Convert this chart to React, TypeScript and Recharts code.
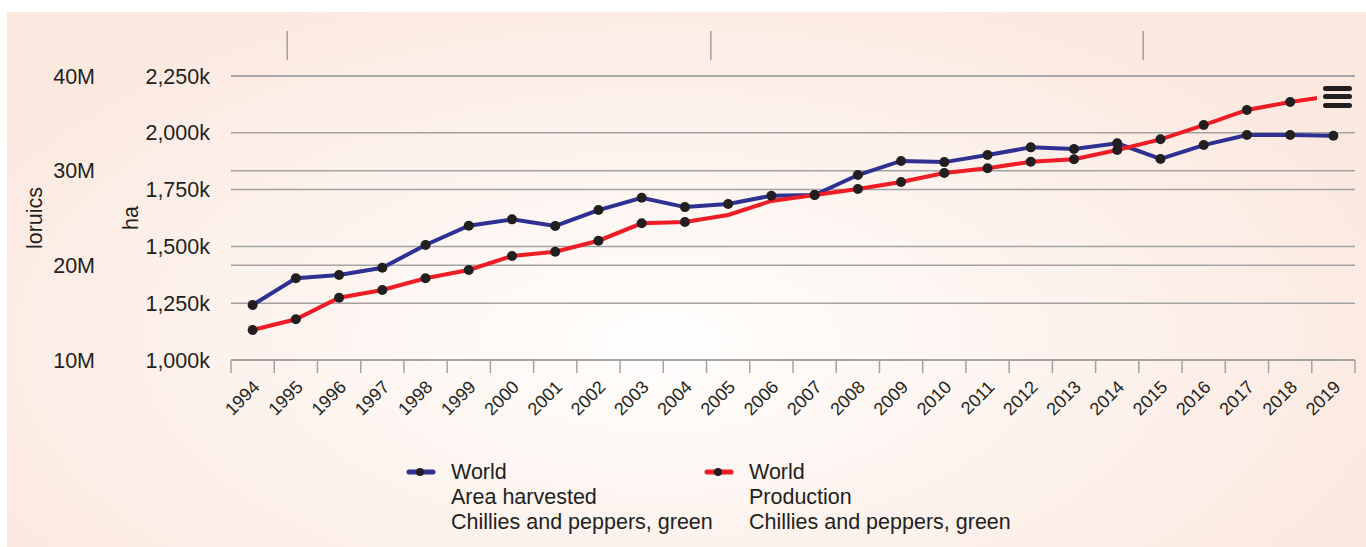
import React from 'react';
import { CartesianGrid, Legend, Line, LineChart, XAxis, YAxis } from 'recharts';

const years = [
  '1994', '1995', '1996', '1997', '1998', '1999', '2000', '2001', '2002', '2003', '2004', '2005', '2006',
  '2007', '2008', '2009', '2010', '2011', '2012', '2013', '2014', '2015', '2016', '2017', '2018', '2019',
];

// ha
const areaHarvested = [
  1242000, 1360000, 1374000, 1406000, 1506000, 1591000, 1619000, 1590000, 1660000, 1714000, 1673000, 1687000, 1723000,
  1726000, 1814000, 1876000, 1871000, 1902000, 1936000, 1929000, 1954000, 1885000, 1946000, 1990000, 1990000, 1987000,
];

// tonnes
const production = [
  13170000, 14300000, 16580000, 17390000, 18630000, 19510000, 20990000, 21440000, 22600000, 24440000, 24580000, 25320000, 26800000,
  27430000, 28060000, 28800000, 29750000, 30250000, 30950000, 31200000, 32180000, 33310000, 34820000, 36410000, 37250000, 37910000,
];

// points of the production line drawn without a marker in the original
const productionNoDot = ['2005', '2006'];

const areaTicks = [1000000, 1250000, 1500000, 1750000, 2000000, 2250000];
const productionTicks = [10000000, 20000000, 30000000, 40000000];
const topMarks = [1994.8, 2004.6, 2014.6];

const areaLegend = ['World', 'Area harvested', 'Chillies and peppers, green'];
const productionLegend = ['World', 'Production', 'Chillies and peppers, green'];

const BLUE = '#2e3192';
const RED = '#ee1c25';
const INK = '#231f20';
const GRID = '#a3a3a3';
const FONT = '"Liberation Sans", Arial, Helvetica, sans-serif';

const W = 1359;
const H = 535;
const MARGIN = { top: 24, right: 11, bottom: 97, left: 0 };
const AREA_AXIS_W = 121;
const PROD_AXIS_W = 103;
const BAND = (W - MARGIN.left - MARGIN.right - AREA_AXIS_W - PROD_AXIS_W) / years.length;

const data = years.map((year, i) => ({
  year,
  yearNum: Number(year),
  area: areaHarvested[i],
  production: production[i],
}));

const fmtArea = (v: number) => `${(v / 1000).toLocaleString('en-US')}k`;
const fmtProd = (v: number) => `${v / 1000000}M`;

function YearTick(props: any) {
  const { x, y, payload, index } = props;
  const half = BAND / 2;
  return (
    <g>
      <line x1={x - half} x2={x - half} y1={y - 14} y2={y - 1} stroke={GRID} strokeWidth={1.5} />
      {index === years.length - 1 && (
        <line x1={x + half} x2={x + half} y1={y - 14} y2={y - 1} stroke={GRID} strokeWidth={1.5} />
      )}
      <text
        x={x - 1}
        y={y + 5}
        dy="0.72em"
        textAnchor="end"
        transform={`rotate(-45, ${x - 1}, ${y + 5})`}
        fontSize={18}
        fill={INK}
      >
        {payload.value}
      </text>
    </g>
  );
}

function TopMark(props: any) {
  const { x, y } = props;
  return <line x1={x} x2={x} y1={y - 45} y2={y - 16} stroke="#8c8c8c" strokeWidth={1.2} />;
}

const axisTitle = (text: string, dx: number) => (props: any) => {
  const vb = props.viewBox || {};
  const cx = vb.x + dx;
  const cy = vb.y + vb.height / 2;
  return (
    <text x={cx} y={cy} textAnchor="middle" dominantBaseline="central" transform={`rotate(-90, ${cx}, ${cy})`} fontSize={21.5} fill={INK}>
      {text}
    </text>
  );
};

function LegendItem({ color, lines, left }: { color: string; lines: string[]; left: number }) {
  return (
    <div style={{ position: 'absolute', left, top: 0 }}>
      <svg width={30} height={12} style={{ position: 'absolute', left: 0, top: 6 }}>
        <line x1={3} x2={27} y1={6} y2={6} stroke={color} strokeWidth={5} strokeLinecap="round" />
        <circle cx={14} cy={6} r={4} fill={INK} />
      </svg>
      <div style={{ marginLeft: 45, fontSize: 21.5, lineHeight: '25px', color: INK, whiteSpace: 'nowrap' }}>
        {lines.map((l) => (
          <div key={l}>{l}</div>
        ))}
      </div>
    </div>
  );
}

function renderLegend() {
  return (
    <div style={{ position: 'relative', width: W, height: 80 }}>
      <LegendItem color={BLUE} lines={areaLegend} left={399} />
      <LegendItem color={RED} lines={productionLegend} left={697} />
    </div>
  );
}

const dotFor = (hidden: string[]) => (props: any) => {
  const { cx, cy, payload, index } = props;
  if (hidden.includes(payload.year)) return <g key={`d${index}`} />;
  return <circle key={`d${index}`} cx={cx} cy={cy} r={5} fill={INK} />;
};

export default function App() {
  return (
    <div
      style={{
        position: 'absolute',
        left: 7,
        top: 12,
        width: W,
        height: H,
        fontFamily: FONT,
        background: 'radial-gradient(ellipse 60% 75% at 48% 62%, #fffefd 0%, #fdf4ef 45%, #fbe8df 100%)',
      }}
    >
      <LineChart width={W} height={H} data={data} margin={MARGIN} style={{ fontFamily: FONT }}>
        <CartesianGrid xAxisId="x" yAxisId="area" vertical={false} stroke={GRID} strokeWidth={1.5} />
        <CartesianGrid xAxisId="x" yAxisId="prod" vertical={false} stroke={GRID} strokeWidth={1.5} />
        <XAxis
          xAxisId="x"
          dataKey="year"
          scale="band"
          interval={0}
          height={90}
          tickLine={false}
          tickSize={0}
          tickMargin={14}
          axisLine={{ stroke: GRID, strokeWidth: 1.5 }}
          tick={<YearTick />}
        />
        <XAxis
          xAxisId="top"
          dataKey="yearNum"
          orientation="top"
          type="number"
          domain={[1993.5, 2019.5]}
          ticks={topMarks}
          interval={0}
          height={40}
          axisLine={false}
          tickLine={false}
          tickSize={0}
          tickMargin={0}
          tick={<TopMark />}
        />
        <YAxis
          yAxisId="area"
          width={AREA_AXIS_W}
          domain={[1000000, 2250000]}
          ticks={areaTicks}
          tickFormatter={fmtArea}
          axisLine={false}
          tickLine={false}
          tickSize={0}
          tickMargin={21}
          tick={{ fontSize: 21.5, fill: INK }}
          label={{ content: axisTitle('ha', 21) }}
        />
        <YAxis
          yAxisId="prod"
          width={PROD_AXIS_W}
          domain={[10000000, 40000000]}
          ticks={productionTicks}
          tickFormatter={fmtProd}
          axisLine={false}
          tickLine={false}
          tickSize={0}
          tickMargin={15}
          tick={{ fontSize: 21.5, fill: INK }}
          label={{ content: axisTitle('loruics', 28) }}
        />
        <Legend
          verticalAlign="middle"
          align="center"
          content={renderLegend}
          wrapperStyle={{ top: 448, left: 0, width: W, height: 80 }}
        />
        <Line
          xAxisId="x"
          yAxisId="area"
          dataKey="area"
          stroke={BLUE}
          strokeWidth={4}
          dot={dotFor([])}
          isAnimationActive={false}
        />
        <Line
          xAxisId="x"
          yAxisId="prod"
          dataKey="production"
          stroke={RED}
          strokeWidth={4}
          dot={dotFor(productionNoDot)}
          isAnimationActive={false}
        />
      </LineChart>
      <div
        style={{
          position: 'absolute',
          left: 1310,
          top: 67,
          width: 42,
          height: 34,
          background: '#fbe9e0',
        }}
      >
        {[6.5, 15, 23.5].map((t) => (
          <div
            key={t}
            style={{ position: 'absolute', left: 6, top: t, width: 29, height: 5, borderRadius: 3, background: INK }}
          />
        ))}
      </div>
    </div>
  );
}
